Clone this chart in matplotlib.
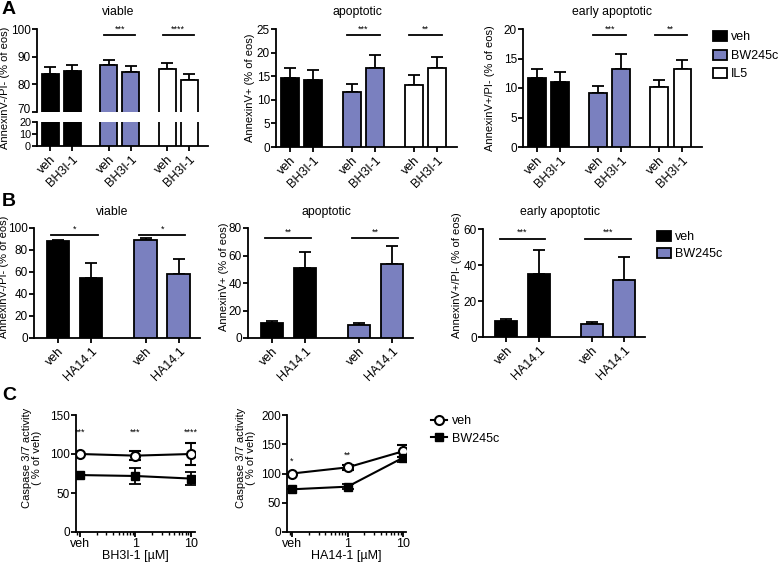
import numpy as np
import matplotlib
matplotlib.use('Agg')
import matplotlib.pyplot as plt
import matplotlib.transforms as mtrans
from matplotlib.patches import Patch
from matplotlib.lines import Line2D

plt.rcParams['font.family'] = ['Liberation Sans', 'DejaVu Sans']
plt.rcParams['axes.linewidth'] = 1.3
plt.rcParams['xtick.major.width'] = 1.3
plt.rcParams['ytick.major.width'] = 1.3
plt.rcParams['xtick.minor.width'] = 1.0
plt.rcParams['xtick.major.size'] = 3.5
plt.rcParams['ytick.major.size'] = 3.5
plt.rcParams['xtick.minor.size'] = 2.2
plt.rcParams['xtick.major.pad'] = 1.5
plt.rcParams['ytick.major.pad'] = 0.8
plt.rcParams['xtick.labelsize'] = 9
plt.rcParams['ytick.labelsize'] = 8.5

BLUE = '#7a80bf'
LBL = 8.0   # axis label font size

# ---- data, panel A (BH3I-1) ----
a_labels = ['veh', 'BH3I-1', 'veh', 'BH3I-1', 'veh', 'BH3I-1']
a_groups = ['veh', 'veh', 'BW245c', 'BW245c', 'IL5', 'IL5']
a_viable = [83.9, 84.8, 87.0, 84.4, 85.6, 81.7]
a_viable_err = [2.3, 2.2, 1.9, 2.1, 2.1, 2.2]
a_apop = [14.6, 14.2, 11.7, 16.8, 13.1, 16.8]
a_apop_err = [2.1, 2.2, 1.6, 2.7, 2.1, 2.3]
a_early = [11.7, 11.0, 9.1, 13.3, 10.1, 13.2]
a_early_err = [1.6, 1.7, 1.3, 2.4, 1.3, 1.6]
a_sig_viable = [(2, 3, '***'), (4, 5, '****')]
a_sig_apop = [(2, 3, '***'), (4, 5, '**')]
a_sig_early = [(2, 3, '***'), (4, 5, '**')]

# ---- data, panel B (HA14.1) ----
b_labels = ['veh', 'HA14.1', 'veh', 'HA14.1']
b_groups = ['veh', 'veh', 'BW245c', 'BW245c']
b_viable = [87.8, 54.3, 89.0, 58.5]
b_viable_err = [1.5, 14.3, 1.5, 13.1]
b_apop = [11.2, 50.7, 9.5, 53.9]
b_apop_err = [1.2, 11.5, 1.5, 13.2]
b_early = [8.7, 35.0, 7.4, 31.9]
b_early_err = [1.1, 13.5, 1.1, 12.4]
b_sig_viable = [(0, 1, '*'), (2, 3, '*')]
b_sig_apop = [(0, 1, '**'), (2, 3, '**')]
b_sig_early = [(0, 1, '***'), (2, 3, '***')]

# ---- data, panel C (caspase 3/7) ----
c_dose = [0.1, 1, 10]
c_dose_labels = ['veh', '1', '10']
c1_veh = [100, 97.9, 100.0]
c1_veh_err = [0, 6, 14.7]
c1_bw = [73, 71.8, 68.5]
c1_bw_err = [0, 10, 8]
c1_sig = ['***', '***', '****']
c2_veh = [100, 110.5, 138]
c2_veh_err = [0, 4, 10]
c2_bw = [73, 77.5, 127]
c2_bw_err = [0, 4.5, 8]
c2_sig = ['*', '**', '']

group_color = {'veh': 'black', 'BW245c': BLUE, 'IL5': 'white'}

W, H = 780, 565
fig = plt.figure(figsize=(7.8, 5.65), dpi=100)


def px_axes(x0, y0, x1, y1):
    return fig.add_axes([x0 / W, 1 - y1 / H, (x1 - x0) / W, (y1 - y0) / H])


def tidy(ax):
    ax.spines['top'].set_visible(False)
    ax.spines['right'].set_visible(False)
    ax.patch.set_alpha(0)


def bars(ax, pos, vals, errs, groups, width, witherr=True):
    cols = [group_color[g] for g in groups]
    ax.bar(pos, vals, width=width, color=cols, edgecolor='black', linewidth=1.3, zorder=3)
    if witherr:
        ax.errorbar(pos, vals, yerr=[np.zeros(len(errs)), errs], fmt='none', ecolor='black',
                    elinewidth=1.3, capsize=4.5, capthick=1.3, zorder=2)


def sig_lines(ax, pos, sig, y, dy):
    for i, j, s in sig:
        ax.plot([pos[i] - 0.2, pos[j] + 0.2], [y, y], color='black', lw=1.3, clip_on=False)
        ax.text((pos[i] + pos[j]) / 2, y + dy, s, ha='center', va='bottom', fontsize=6.5)


def xlabels(ax, pos, labels):
    ax.set_xticks(pos)
    ax.set_xticklabels(labels, rotation=45, ha='right', rotation_mode='anchor', fontsize=9)


def ftext(x, y, s, **kw):
    fig.text(x / W, 1 - y / H, s, **kw)


def nudge(label, dy_pt):
    label.set_transform(label.get_transform() +
                        mtrans.ScaledTranslation(0, dy_pt / 72, fig.dpi_scale_trans))


a_pos = np.array([0, 1, 2.65, 3.65, 5.3, 6.3])
a_xlim = (-0.6, 7.15)
a_w = 0.76

# A viable, broken axis
ax_up = px_axes(37, 29, 208, 112)
ax_lo = px_axes(37, 122, 208, 146)
bars(ax_up, a_pos, a_viable, a_viable_err, a_groups, a_w)
bars(ax_lo, a_pos, a_viable, a_viable_err, a_groups, a_w, witherr=False)
for ax in (ax_up, ax_lo):
    tidy(ax)
    ax.set_xlim(*a_xlim)
ax_up.set_ylim(70, 100)
ax_up.set_yticks([70, 80, 90, 100])
ax_up.spines['bottom'].set_visible(False)
ax_up.set_xticks([])
ax_lo.set_ylim(0, 20)
ax_lo.set_yticks([0, 10, 20])
ax_lo.tick_params(axis='y', labelsize=7.8)
nudge(ax_up.get_yticklabels()[0], 2.4)
xlabels(ax_lo, a_pos, a_labels)
sig_lines(ax_up, a_pos, a_sig_viable, 97.8, 0.4)
ftext(5, 88, 'AnnexinV-/PI- (% of eos)', rotation=90, ha='center', va='center', fontsize=LBL)
ftext(118, 12, 'viable', ha='center', va='center', fontsize=8.8)

# A apoptotic
ax = px_axes(276, 29, 457, 147)
tidy(ax)
bars(ax, a_pos, a_apop, a_apop_err, a_groups, a_w)
ax.set_xlim(*a_xlim)
ax.set_ylim(0, 25)
ax.set_yticks([0, 5, 10, 15, 20, 25])
xlabels(ax, a_pos, a_labels)
sig_lines(ax, a_pos, a_sig_apop, 23.7, 0.3)
ftext(250, 88, 'AnnexinV+ (% of eos)', rotation=90, ha='center', va='center', fontsize=LBL)
ftext(357, 12, 'apoptotic', ha='center', va='center', fontsize=8.8)

# A early apoptotic
ax = px_axes(523, 29, 702, 147)
tidy(ax)
bars(ax, a_pos, a_early, a_early_err, a_groups, a_w)
ax.set_xlim(*a_xlim)
ax.set_ylim(0, 20)
ax.set_yticks([0, 5, 10, 15, 20])
xlabels(ax, a_pos, a_labels)
sig_lines(ax, a_pos, a_sig_early, 18.9, 0.3)
ftext(490, 88, 'AnnexinV+/PI- (% of eos)', rotation=90, ha='center', va='center', fontsize=LBL)
ftext(612, 12, 'early apoptotic', ha='center', va='center', fontsize=8.8)

leg_a = [Patch(facecolor=group_color[g], edgecolor='black', linewidth=1.3, label=g)
         for g in ['veh', 'BW245c', 'IL5']]
fig.legend(handles=leg_a, loc='upper left', bbox_to_anchor=(713 / W, 1 - 31 / H), frameon=False,
           fontsize=9, handlelength=1.1, handleheight=0.85, handletextpad=0.35, labelspacing=0.5,
           borderaxespad=0, borderpad=0)

b_pos = np.array([0, 1, 2.64, 3.64])
b_xlim = (-0.72, 4.28)
b_w = 0.68

# B viable
ax = px_axes(34, 228, 200, 338)
tidy(ax)
bars(ax, b_pos, b_viable, b_viable_err, b_groups, b_w)
ax.set_xlim(*b_xlim)
ax.set_ylim(0, 100)
ax.set_yticks([0, 20, 40, 60, 80, 100])
xlabels(ax, b_pos, b_labels)
sig_lines(ax, b_pos, b_sig_viable, 93.3, 1.5)
ftext(4, 277, 'AnnexinV-/PI- (% of eos)', rotation=90, ha='center', va='center', fontsize=LBL)
ftext(112, 212, 'viable', ha='center', va='center', fontsize=8.8)

# B apoptotic
ax = px_axes(248, 228, 413, 338)
tidy(ax)
bars(ax, b_pos, b_apop, b_apop_err, b_groups, b_w)
ax.set_xlim(*b_xlim)
ax.set_ylim(0, 80)
ax.set_yticks([0, 20, 40, 60, 80])
xlabels(ax, b_pos, b_labels)
sig_lines(ax, b_pos, b_sig_apop, 72.7, 1.2)
ftext(224, 277, 'AnnexinV+ (% of eos)', rotation=90, ha='center', va='center', fontsize=LBL)
ftext(326, 212, 'apoptotic', ha='center', va='center', fontsize=8.8)

# B early apoptotic
ax = px_axes(483, 229, 645, 337)
tidy(ax)
bars(ax, b_pos, b_early, b_early_err, b_groups, b_w)
ax.set_xlim(*b_xlim)
ax.set_ylim(0, 60)
ax.set_yticks([0, 20, 40, 60])
xlabels(ax, b_pos, b_labels)
sig_lines(ax, b_pos, b_sig_early, 54.6, 0.9)
ftext(457, 275, 'AnnexinV+/PI- (% of eos)', rotation=90, ha='center', va='center', fontsize=LBL)
ftext(560, 212, 'early apoptotic', ha='center', va='center', fontsize=8.8)

leg_b = [Patch(facecolor=group_color[g], edgecolor='black', linewidth=1.3, label=g)
         for g in ['veh', 'BW245c']]
fig.legend(handles=leg_b, loc='upper left', bbox_to_anchor=(657 / W, 1 - 231 / H), frameon=False,
           fontsize=9, handlelength=1.1, handleheight=0.85, handletextpad=0.35, labelspacing=0.35,
           borderaxespad=0, borderpad=0)


# C line plots
def caspase(ax, veh, veh_err, bw, bw_err, sig, ylim, yticks, sig_y, xlab, xlim):
    tidy(ax)
    ax.errorbar(c_dose, veh, yerr=veh_err, color='black', lw=1.5, marker='o', ms=6.5,
                mfc='white', mec='black', mew=1.5, capsize=4, capthick=1.3, elinewidth=1.3, zorder=3)
    ax.errorbar(c_dose, bw, yerr=bw_err, color='black', lw=1.5, marker='s', ms=6,
                mfc='black', mec='black', capsize=4, capthick=1.3, elinewidth=1.3, zorder=3)
    ax.set_xscale('log')
    ax.set_xlim(*xlim)
    ax.set_ylim(*ylim)
    ax.set_yticks(yticks)
    ax.set_xticks(c_dose)
    ax.set_xticklabels(c_dose_labels, fontsize=9)
    ax.tick_params(axis='x', which='minor', bottom=True)
    ax.tick_params(axis='x', which='major', pad=1)
    for x, s, y in zip(c_dose, sig, sig_y):
        ax.text(x, y, s, ha='center', va='bottom', fontsize=6.5)
    ax.set_xlabel(xlab, fontsize=9, labelpad=0)


ax = px_axes(76, 415, 195, 532)
caspase(ax, c1_veh, c1_veh_err, c1_bw, c1_bw_err, c1_sig, (0, 150), [0, 50, 100, 150],
        [122, 122, 122], 'BH3I-1 [µM]', (0.085, 11.8))
ftext(32, 458, 'Caspase 3/7 activity\n( % of veh)', rotation=90, ha='center', va='center',
      fontsize=LBL, linespacing=1.0)

ax = px_axes(287, 415, 406, 532)
caspase(ax, c2_veh, c2_veh_err, c2_bw, c2_bw_err, c2_sig, (0, 200), [0, 50, 100, 150, 200],
        [114, 124, 0], 'HA14-1 [µM]', (0.081, 11.3))
ftext(246, 458, 'Caspase 3/7 activity\n( % of veh)', rotation=90, ha='center', va='center',
      fontsize=LBL, linespacing=1.0)

leg_c = [Line2D([], [], color='black', lw=1.5, marker='o', ms=6.5, mfc='white', mew=1.5, label='veh'),
         Line2D([], [], color='black', lw=1.5, marker='s', ms=6, mfc='black', label='BW245c')]
fig.legend(handles=leg_c, loc='upper left', bbox_to_anchor=(431 / W, 1 - 415 / H), frameon=False,
           fontsize=9, handlelength=1.3, handletextpad=0.4, labelspacing=0.45,
           borderaxespad=0, borderpad=0)

# panel letters
ftext(2, 9, 'A', fontsize=14, fontweight='bold', va='center')
ftext(2, 201, 'B', fontsize=14, fontweight='bold', va='center')
ftext(2, 396, 'C', fontsize=14, fontweight='bold', va='center')

fig.savefig('out.png', dpi=100)
